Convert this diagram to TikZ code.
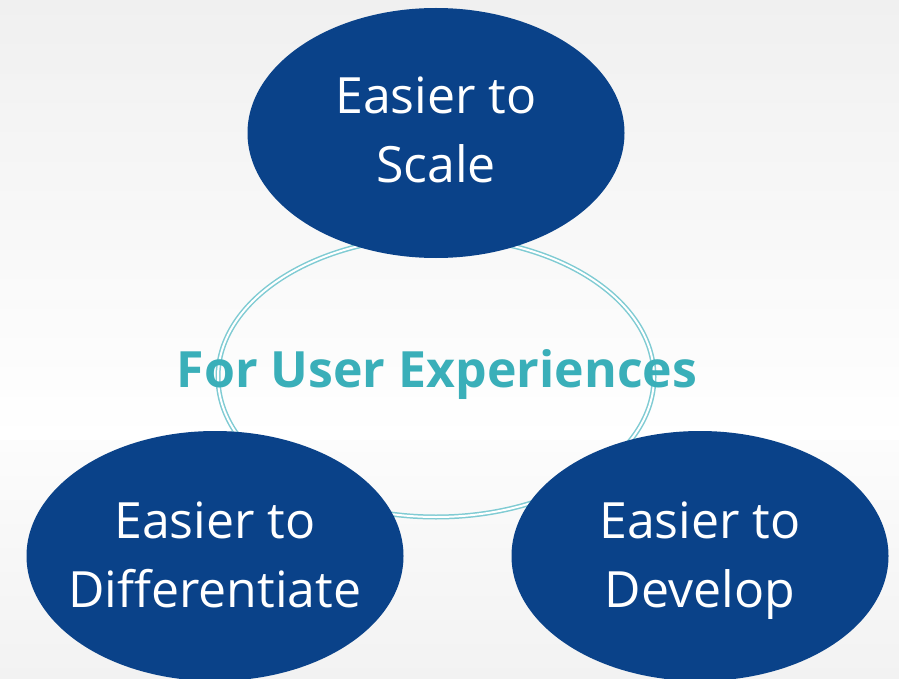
\documentclass[tikz,border=0pt]{standalone}
\usepackage{fontspec}
\setmainfont{Open Sans}
\usetikzlibrary{shapes.geometric}
\definecolor{navy}{HTML}{0A4289}
\definecolor{ringc}{HTML}{7FCBD3}
\definecolor{tealc}{HTML}{3AAFB9}
\definecolor{bgtop}{HTML}{F0F0F0}
\definecolor{bgbot}{HTML}{F2F2F2}
\definecolor{bgmid}{HTML}{FCFCFC}
\begin{document}
\begin{tikzpicture}[x=1pt,y=-1pt,
  blob/.style={ellipse, fill=navy, minimum width=377pt, minimum height=250pt,
    inner sep=0pt},
  lbl/.style={anchor=base, inner sep=0pt, text=white, font=\fontsize{50}{69}\selectfont},
  ringstyle/.style={ellipse, draw=ringc, double=white, double distance=2pt,
    line width=1.5pt, minimum width=436pt, minimum height=280pt, inner sep=0pt},
  titlestyle/.style={anchor=base, inner sep=0pt, text=tealc, font=\bfseries\fontsize{50}{58}\selectfont}]
\useasboundingbox (0,0) rectangle (899,679);
\shade[top color=bgtop, bottom color=white] (0,0) rectangle (899,440);
\shade[top color=bgmid, bottom color=bgbot] (0,440) rectangle (899,679);
\node[ringstyle] (ring) at (436,377) {};
\node[blob] (scale) at (436,133) {};
\node[blob] (diff) at (215,556) {};
\node[blob] (dev) at (700,556) {};
\node[lbl] (scaleA) at (436,114) {Easier to};
\node[lbl] (scaleB) at (436,183) {Scale};
\node[lbl] (diffA) at (215,538) {Easier to};
\node[lbl] (diffB) at (215,607) {Differentiate};
\node[lbl] (devA) at (700,538) {Easier to};
\node[lbl] (devB) at (700,607) {Develop};
\node[titlestyle] (title) at (437,387) {For User Experiences};
\end{tikzpicture}
\end{document}
